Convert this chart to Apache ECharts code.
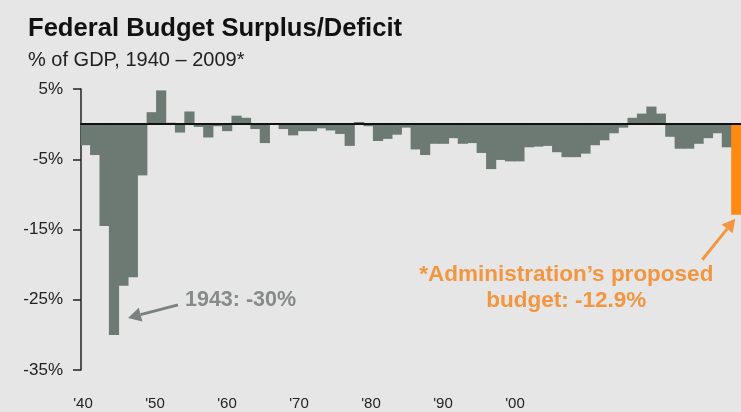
<!DOCTYPE html>
<html>
<head>
<meta charset="utf-8">
<title>Federal Budget Surplus/Deficit</title>
<script src="https://cdn.jsdelivr.net/npm/echarts@6/dist/echarts.min.js"></script>
<style>
  html, body { margin: 0; padding: 0; background: #e5e6e5; }
  #chart { width: 741px; height: 412px; }
</style>
</head>
<body>
<div id="chart"></div>
<script>
// Fiscal years shown as bars
const years = [];
for (let y = 1940; y <= 2009; y++) years.push(String(y));

// Surplus (+) / deficit (-) as % of GDP, one value per year
const balance = [
  -3.0, -4.4, -14.5, -30.0, -23.0, -21.8, -7.3, 1.7, 4.8, 0.2,      // 1940s
  -1.2, 1.8, -0.4, -1.9, -0.3, -1.0, 1.2, 0.9, -0.7, -2.7,          // 1950s
  0.1, -0.7, -1.6, -1.0, -1.0, -0.6, -0.9, -1.4, -3.1, 0.3,         // 1960s
  -0.3, -2.4, -2.1, -1.5, -0.5, -3.6, -4.4, -2.8, -2.8, -2.0,       // 1970s
  -2.8, -2.7, -4.1, -6.4, -5.1, -5.3, -5.3, -3.3, -3.2, -3.1,       // 1980s
  -4.0, -4.7, -4.7, -4.2, -3.0, -2.3, -1.3, -0.5, 0.9, 1.5,         // 1990s
  2.5, 1.5, -1.8, -3.5, -3.5, -2.8, -2.0, -1.3, -3.3, -12.9         // 2000s
];

// Highlighted years
const proposedYear = '2009';
const peakYear = '1943';

// Axis ticks
const yMin = -35, yMax = 5, yStep = 10;
const decadeTickYears = [1940, 1950, 1960, 1970, 1980, 1990, 2000];
const decadeTickLabels = ["'40", "'50", "'60", "'70", "'80", "'90", "'00"];

const FONT = '"Liberation Sans", Arial, Helvetica, sans-serif';
const BAR = '#6d7a73';
const ORANGE = '#ff8a12';
const ORANGE_TEXT = '#f3963f';
const GREY_TEXT = '#858b88';

const chart = echarts.init(document.getElementById('chart'), null, { renderer: 'canvas' });

const barData = balance.map(function (v, i) {
  return { value: v, itemStyle: { color: years[i] === proposedYear ? ORANGE : BAR } };
});

const option = {
  backgroundColor: '#e5e6e5',
  animation: false,
  title: [
    {
      text: 'Federal Budget Surplus/Deficit',
      left: 23, top: 11,
      textStyle: { fontFamily: FONT, fontSize: 25.6, fontWeight: 'bold', color: '#111' }
    },
    {
      text: '% of GDP, 1940 \u2013 2009*',
      left: 23, top: 45,
      textStyle: { fontFamily: FONT, fontSize: 20, fontWeight: 'normal', color: '#222' }
    }
  ],
  grid: { left: 81, right: 0, top: 89, bottom: 42, containLabel: false },
  xAxis: [
    {
      type: 'category',
      data: years,
      boundaryGap: true,
      axisLine: { show: true, onZero: true, lineStyle: { color: '#111', width: 2 } },
      axisTick: { show: false },
      axisLabel: { show: false },
      splitLine: { show: false },
      z: 5
    },
    {
      // decade labels along the bottom edge
      type: 'value',
      position: 'bottom',
      min: 1939.72,
      max: 2031.39,
      axisLine: { show: false, onZero: false },
      axisTick: { show: false },
      splitLine: { show: false },
      axisLabel: {
        customValues: decadeTickYears,
        formatter: function (v) {
          const i = decadeTickYears.indexOf(Math.round(v));
          return i >= 0 ? decadeTickLabels[i] : '';
        },
        margin: 26,
        fontFamily: FONT,
        fontSize: 15,
        color: '#222'
      }
    }
  ],
  yAxis: {
    type: 'value',
    min: yMin,
    max: yMax,
    interval: yStep,
    axisLine: { show: true, lineStyle: { color: '#222', width: 1.5 } },
    axisTick: { show: true, inside: false, length: 8, lineStyle: { color: '#222', width: 1.5 } },
    axisLabel: {
      formatter: '{value}%',
      margin: 18,
      fontFamily: FONT,
      fontSize: 17,
      color: '#222'
    },
    splitLine: { show: false }
  },
  series: [
    {
      type: 'bar',
      xAxisIndex: 0,
      yAxisIndex: 0,
      data: barData,
      // bars slightly wider than their slot so neighbours overlap and leave no seams
      barWidth: '108%',
      z: 2
    }
  ]
};

chart.setOption(option);

// Annotation arrows and captions, anchored to the bars they describe
function arrow(x1, y1, x2, y2, color, width, head) {
  const ang = Math.atan2(y2 - y1, x2 - x1);
  const hx = x2 - head * Math.cos(ang), hy = y2 - head * Math.sin(ang);
  const px = Math.sin(ang) * head * 0.55, py = -Math.cos(ang) * head * 0.55;
  return [
    { type: 'line', shape: { x1: x1, y1: y1, x2: hx, y2: hy },
      style: { stroke: color, lineWidth: width }, z: 10 },
    { type: 'polygon', shape: { points: [[x2, y2], [hx + px, hy + py], [hx - px, hy - py]] },
      style: { fill: color }, z: 10 }
  ];
}

const peakIdx = years.indexOf(peakYear);
const propIdx = years.indexOf(proposedYear);
const peak = chart.convertToPixel({ xAxisIndex: 0, yAxisIndex: 0 }, [peakYear, balance[peakIdx]]);
const prop = chart.convertToPixel({ xAxisIndex: 0, yAxisIndex: 0 }, [proposedYear, balance[propIdx]]);

const graphics = []
  .concat(arrow(peak[0] + 64, peak[1] - 30, peak[0] + 14, peak[1] - 17, '#7b817e', 3, 13))
  .concat(arrow(prop[0] - 34, prop[1] + 45, prop[0] - 1, prop[1] + 4, ORANGE_TEXT, 3, 13));

graphics.push({
  type: 'text', z: 10,
  style: {
    text: peakYear + ': ' + Math.round(balance[peakIdx]) + '%',
    x: peak[0] + 71, y: peak[1] - 35,
    textAlign: 'left', textVerticalAlign: 'middle',
    font: 'bold 21.5px ' + FONT, fill: GREY_TEXT
  }
});
graphics.push({
  type: 'text', z: 10,
  style: {
    text: "*Administration\u2019s proposed\nbudget: " + balance[propIdx].toFixed(1) + '%',
    x: prop[0] - 170, y: prop[1] + 73,
    textAlign: 'center', textVerticalAlign: 'middle',
    lineHeight: 26,
    font: 'bold 22.5px ' + FONT, fill: ORANGE_TEXT
  }
});

chart.setOption({ graphic: graphics });
</script>
</body>
</html>
